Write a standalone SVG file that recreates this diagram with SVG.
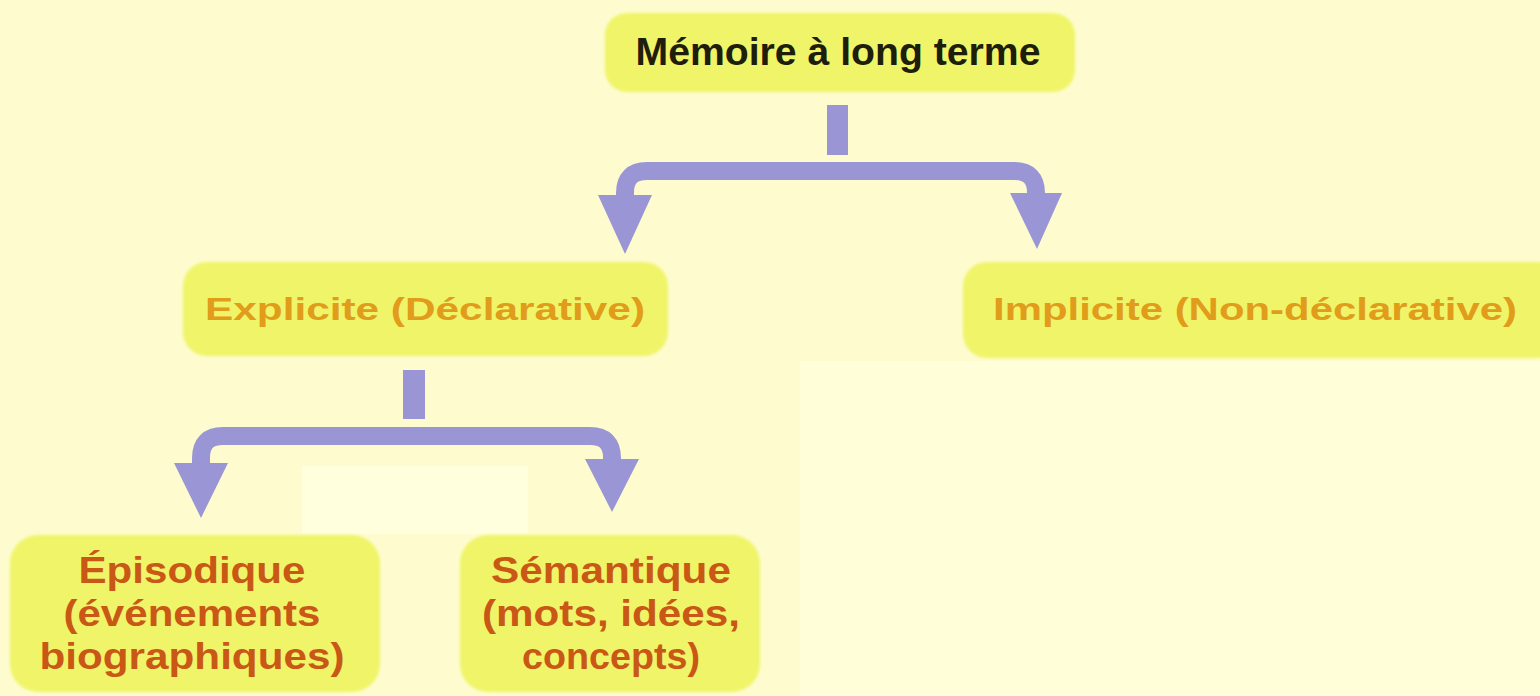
<svg xmlns="http://www.w3.org/2000/svg" width="1540" height="696" viewBox="0 0 1540 696">
  <style>
    .box { fill: #F0F468; filter: url(#soft); }
    .t { font-family: "Liberation Sans", Arial, sans-serif; font-weight: bold; text-anchor: middle; }
    .t0 { fill: #1E1E0A; font-size: 38px; }
    .t1 { fill: #E09C1A; font-size: 31px; }
    .t2 { fill: #C95816; font-size: 36px; }
    .conn { fill: none; stroke: #9A96D6; stroke-width: 18; }
    .head, .stub { fill: #9A96D6; }
  </style>
  <defs>
    <filter id="soft" x="-5%" y="-10%" width="110%" height="120%">
      <feGaussianBlur stdDeviation="1.5"/>
    </filter>
  </defs>
  <rect x="0" y="0" width="1540" height="696" fill="#FEFCCF"/>
  <rect x="800" y="361" width="740" height="335" fill="#FFFED8"/>
  <rect x="302" y="466" width="226" height="68" fill="#FFFFDD"/>

  <g id="connectors">
    <rect class="stub" x="827" y="105" width="21" height="50"/>
    <path class="conn" d="M 625 205 L 625 193 Q 625 171 647 171 L 1014 171 Q 1036 171 1036 193 L 1036 200"/>
    <polygon class="head" points="598,195 652,195 625,254"/>
    <polygon class="head" points="1010,193 1062,193 1037,249"/>
    <rect class="stub" x="403" y="370" width="22" height="49"/>
    <path class="conn" d="M 201 470 L 201 458 Q 201 436 223 436 L 590 436 Q 612 436 612 458 L 612 465"/>
    <polygon class="head" points="174,463 228,463 201,518"/>
    <polygon class="head" points="585,459 639,459 612,512"/>
  </g>

  <g id="node-memoire">
    <rect class="box" x="605" y="13" width="470" height="79" rx="22"/>
    <text class="t t0" x="838" y="65" textLength="405" lengthAdjust="spacingAndGlyphs">Mémoire à long terme</text>
  </g>
  <g id="node-explicite">
    <rect class="box" x="183" y="262" width="485" height="94" rx="24"/>
    <text class="t t1" x="425" y="320" textLength="440" lengthAdjust="spacingAndGlyphs">Explicite (Déclarative)</text>
  </g>
  <g id="node-implicite">
    <rect class="box" x="963" y="262" width="600" height="96" rx="24"/>
    <text class="t t1" x="1255" y="320" textLength="524" lengthAdjust="spacingAndGlyphs">Implicite (Non-déclarative)</text>
  </g>
  <g id="node-episodique">
    <rect class="box" x="10" y="535" width="370" height="157" rx="28"/>
    <text class="t t2" x="192" y="583" textLength="227" lengthAdjust="spacingAndGlyphs">Épisodique</text>
    <text class="t t2" x="192" y="626" textLength="257" lengthAdjust="spacingAndGlyphs">(événements</text>
    <text class="t t2" x="192" y="669" textLength="305" lengthAdjust="spacingAndGlyphs">biographiques)</text>
  </g>
  <g id="node-semantique">
    <rect class="box" x="460" y="535" width="300" height="157" rx="28"/>
    <text class="t t2" x="611" y="583" textLength="240" lengthAdjust="spacingAndGlyphs">Sémantique</text>
    <text class="t t2" x="611" y="626" textLength="258" lengthAdjust="spacingAndGlyphs">(mots, idées,</text>
    <text class="t t2" x="611" y="669" textLength="178" lengthAdjust="spacingAndGlyphs">concepts)</text>
  </g>
</svg>
